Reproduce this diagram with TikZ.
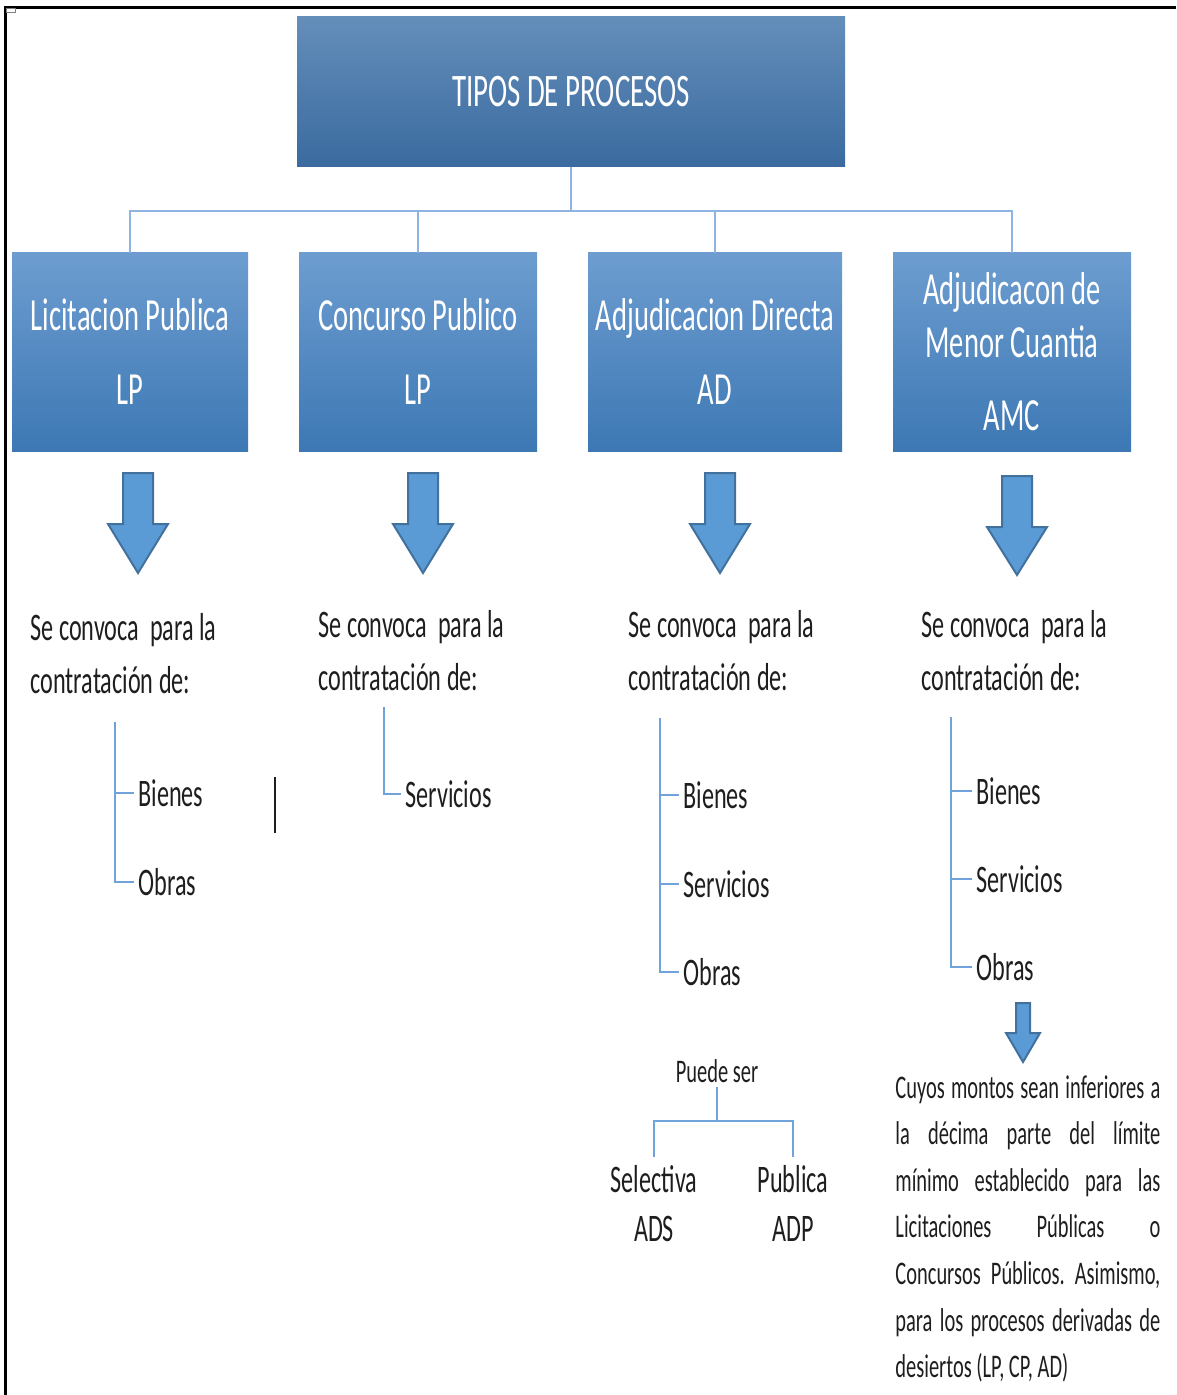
\documentclass[tikz,border=0pt]{standalone}
\usepackage{fontspec}
\setmainfont{Carlito}[FakeStretch=0.62]
\definecolor{linkblue}{HTML}{8DB4E2}
\definecolor{treeblue}{HTML}{6FA3DA}
\definecolor{arrowfill}{HTML}{5B9BD5}
\definecolor{arrowedge}{HTML}{41719C}
\definecolor{titletop}{HTML}{648EBA}
\definecolor{titlebot}{HTML}{3A6A9F}
\definecolor{boxtop}{HTML}{6D9DD0}
\definecolor{boxbot}{HTML}{3D78B4}
\definecolor{ink}{HTML}{1E1E1E}
\tikzstyle{titlebox}=[rectangle,top color=titletop,bottom color=titlebot,text=white,
minimum width=274pt,minimum height=75pt,font=\fontsize{23.3}{28}\selectfont]
\tikzstyle{typebox}=[rectangle,top color=boxtop,bottom color=boxbot,text=white,
minimum height=99pt,align=center,font=\fontsize{23}{26.5}\selectfont]
\tikzstyle{link}=[draw=linkblue,line width=1pt]
\tikzstyle{branch}=[draw=treeblue,line width=1pt]
\tikzstyle{blockarrow}=[fill=arrowfill,draw=arrowedge,line width=1pt]
\tikzstyle{convoca}=[anchor=west,inner sep=0pt,align=left,text=ink,
font=\fontsize{19.5}{26.5}\selectfont]
\tikzstyle{item}=[anchor=west,inner sep=2pt,text=ink,font=\fontsize{19.5}{23}\selectfont]
\tikzstyle{kind}=[inner sep=4pt,align=center,text=ink,font=\fontsize{19.5}{24.5}\selectfont]
\tikzstyle{note}=[anchor=north west,inner sep=0pt,text width=132.5pt,align=justify,text=ink,
font=\fontsize{16.5}{23.3}\selectfont]
\tolerance=10000
\hyphenpenalty=10000
\frenchspacing

\begin{document}
\begin{tikzpicture}[x=0.5pt,y=-0.5pt]
            \useasboundingbox (0,0) rectangle (1176,1395);

            % frame
            \draw[line width=1.6pt] (5.5,1395) -- (5.5,7.5) -- (1176,7.5);
            \draw[gray,line width=0.5pt] (6,8.5) rectangle (15,13);

            % TOP
            \node[titlebox] (title) at (571,92) {TIPOS DE PROCESOS};

            \node[typebox,minimum width=118pt] (lp)  at (130,352) {Licitacion Publica\\[10.5pt]LP};
            \node[typebox,minimum width=119pt] (cp)  at (418,352) {Concurso Publico\\[10.5pt]LP};
            \node[typebox,minimum width=127pt] (ad)  at (715,352) {Adjudicacion Directa\\[10.5pt]AD};
            \node[typebox,minimum width=119pt] (amc) at (1012,352) {Adjudicacon de\\Menor Cuantia\\[10pt]AMC};

            \coordinate (bus) at (571,211);
            \draw[link] (title.south) -- (bus);
            \draw[link] (lp.north) |- (bus) -| (amc.north);
            \draw[link] (cp.north) -- (cp.north |- bus);
            \draw[link] (ad.north) -- (ad.north |- bus);

            % arrows
            \draw[blockarrow,shift={(138,473)}] (-15,0) -- (15,0) -- (15,51) -- (30,51) -- (0,100) -- (-30,51) -- (-15,51) -- cycle;
            \draw[blockarrow,shift={(423,473)}] (-15,0) -- (15,0) -- (15,51) -- (30,51) -- (0,100) -- (-30,51) -- (-15,51) -- cycle;
            \draw[blockarrow,shift={(720,473)}] (-15,0) -- (15,0) -- (15,51) -- (30,51) -- (0,100) -- (-30,51) -- (-15,51) -- cycle;
            \draw[blockarrow,shift={(1017,476)}] (-15,0) -- (15,0) -- (15,51) -- (30,51) -- (0,99) -- (-30,51) -- (-15,51) -- cycle;

            \node[convoca] (conv1) at (30,654)  {Se convoca\ \ para la\\contratación de:};
            \node[convoca] (conv2) at (318,651) {Se convoca\ \ para la\\contratación de:};
            \node[convoca] (conv3) at (628,651) {Se convoca\ \ para la\\contratación de:};
            \node[convoca] (conv4) at (921,651) {Se convoca\ \ para la\\contratación de:};

            % LP PART
            \coordinate (trunk1) at (115,722);
            \node[item] (bien1) at (134,793) {Bienes};
            \node[item] (obra1) at (134,882) {Obras};
            \draw[branch] (trunk1) |- (obra1.west);
            \draw[branch] (trunk1 |- bien1.west) -- (bien1.west);
            \draw[ink,line width=1pt] (275,777) -- (275,833);

            % CP PART
            \coordinate (trunk2) at (384,707);
            \node[item] (serv2) at (401,794) {Servicios};
            \draw[branch] (trunk2) |- (serv2.west);

            % AD PART
            \coordinate (trunk3) at (660,718);
            \node[item] (bien3) at (679,795) {Bienes};
            \node[item] (serv3) at (679,884) {Servicios};
            \node[item] (obra3) at (679,972) {Obras};
            \draw[branch] (trunk3) |- (obra3.west);
            \draw[branch] (trunk3 |- bien3.west) -- (bien3.west);
            \draw[branch] (trunk3 |- serv3.west) -- (serv3.west);

            \node[inner sep=2pt,text=ink,font=\fontsize{16.5}{20}\selectfont] (puede) at (717,1071) {Puede ser};
            \node[kind] (sel) at (654,1204) {Selectiva\\ADS};
            \node[kind] (pub) at (793,1203) {Publica\\ADP};
            \coordinate (psbus) at (717,1121);
            \draw[branch] (puede.south) -- (psbus);
            \draw[branch] (sel.north) |- (psbus) -| (pub.north);

            % AMC PART
            \coordinate (trunk4) at (951,717);
            \node[item] (bien4) at (972,791) {Bienes};
            \node[item] (serv4) at (972,879) {Servicios};
            \node[item] (obra4) at (972,967) {Obras};
            \draw[branch] (trunk4) |- (obra4.west);
            \draw[branch] (trunk4 |- bien4.west) -- (bien4.west);
            \draw[branch] (trunk4 |- serv4.west) -- (serv4.west);

            \draw[blockarrow,shift={(1023,1003)}] (-7,0) -- (7,0) -- (7,30) -- (17,30) -- (0,59) -- (-17,30) -- (-7,30) -- cycle;

            \node[note] (cuyos) at (895,1075) {Cuyos montos sean inferiores a\linebreak
            la décima parte del límite\linebreak
            mínimo establecido para las\linebreak
            Licitaciones Públicas o\linebreak
            Concursos Públicos. Asimismo,\linebreak
            para los procesos derivadas de\linebreak
            desiertos (LP, CP, AD)};

        \end{tikzpicture}
\end{document}
